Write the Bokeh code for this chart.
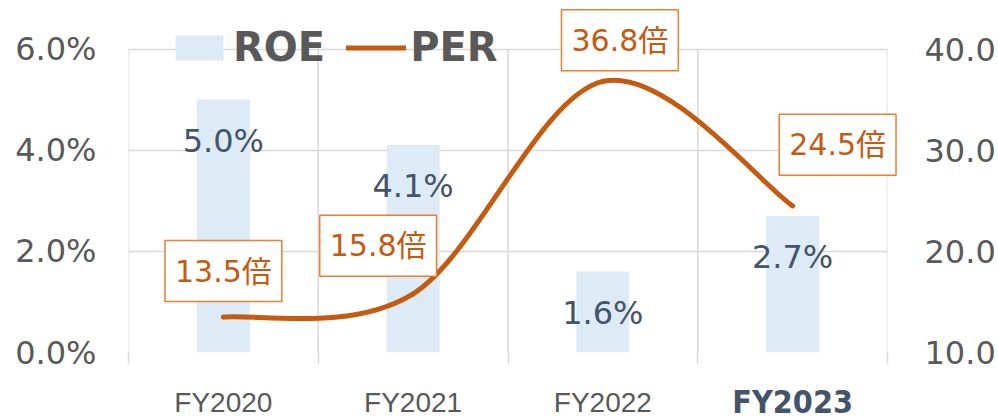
from bokeh.plotting import figure
from bokeh.models import (Range1d, LinearAxis, FixedTicker, PrintfTickFormatter,
                          ColumnDataSource, Legend, LegendItem)
from bokeh.embed import file_html
from bokeh.resources import INLINE
from bokeh.core.properties import value

# ---- data ----
categories = ["FY2020", "FY2021", "FY2022", "FY2023"]
roe = [5.0, 4.1, 1.6, 2.7]          # %
per = [13.5, 15.8, 36.8, 24.5]      # 倍
roe_ticks = [0, 2, 4, 6]
per_ticks = [10, 20, 30, 40]
highlight = "FY2023"

# ---- layout-only settings (screen px) ----
per_label_dx = [0, -35, 17, 45]
per_label_dy = [-46, -48, -41, -61]
TOP_PAD_PX = 48.5      # space between frame top and 6.0% line (legend lives here)
PLOT_PX = 303.5        # height of the 0..6% area

xc = [i + 0.5 for i in range(len(categories))]
bounds = list(range(len(categories) + 1))

ext = (PLOT_PX + TOP_PAD_PX) / PLOT_PX
roe_lo, roe_hi = roe_ticks[0], roe_ticks[-1]
per_lo, per_hi = per_ticks[0], per_ticks[-1]

src = ColumnDataSource(dict(
    x=xc, cat=categories, roe=roe, per=per,
    roe_lbl=[f"{v:.1f}%" for v in roe],
    per_lbl=[f"{v:.1f}倍" for v in per],
    dx=per_label_dx, dy=per_label_dy,
))

# smooth curve (Catmull-Rom style Bezier segments through the PER points)
n = len(xc)
bz = dict(x0=[], y0=[], x1=[], y1=[], cx0=[], cy0=[], cx1=[], cy1=[])
for i in range(n - 1):
    pxp, pyp = (xc[i - 1], per[i - 1]) if i > 0 else (xc[i], per[i])
    pxn, pyn = (xc[i + 2], per[i + 2]) if i + 2 < n else (xc[i + 1], per[i + 1])
    bz["x0"].append(xc[i]); bz["y0"].append(per[i])
    bz["x1"].append(xc[i + 1]); bz["y1"].append(per[i + 1])
    bz["cx0"].append(xc[i] + (xc[i + 1] - pxp) / 6)
    bz["cy0"].append(per[i] + (per[i + 1] - pyp) / 6)
    bz["cx1"].append(xc[i + 1] - (pxn - xc[i]) / 6)
    bz["cy1"].append(per[i + 1] - (pyn - per[i]) / 6)
bz_src = ColumnDataSource(bz)

GRID = "#d9d9d9"
TICK = "#595959"
LINE = "#C55A11"
BOX = "#ED7D31"
BAR = "#DDEBF7"
DARK = "#44546A"
FONT = "'DejaVu Sans', 'Noto Sans CJK JP'"

p = figure(width=998, height=419, x_range=Range1d(0, len(categories)),
           y_range=Range1d(roe_lo, roe_lo + (roe_hi - roe_lo) * ext),
           output_backend="svg", toolbar_location=None,
           min_border_left=128, min_border_right=107,
           min_border_top=0, min_border_bottom=67)
p.outline_line_color = None
p.background_fill_color = "white"
p.border_fill_color = "white"

p.extra_y_ranges = {"per": Range1d(per_lo, per_lo + (per_hi - per_lo) * ext)}

# left axis
p.yaxis.ticker = FixedTicker(ticks=roe_ticks)
p.yaxis.formatter = PrintfTickFormatter(format="%.1f%%")
p.yaxis.axis_line_color = None
p.yaxis.major_tick_line_color = None
p.yaxis.minor_tick_line_color = None
p.yaxis.major_label_standoff = 26
p.yaxis.major_label_text_font = FONT
p.yaxis.major_label_text_font_size = "32px"
p.yaxis.major_label_text_color = TICK

# right axis
ax2 = LinearAxis(y_range_name="per", ticker=FixedTicker(ticks=per_ticks),
                 formatter=PrintfTickFormatter(format="%.1f"))
ax2.axis_line_color = None
ax2.major_tick_line_color = None
ax2.minor_tick_line_color = None
ax2.major_label_standoff = 31
ax2.major_label_text_font = FONT
ax2.major_label_text_font_size = "32px"
ax2.major_label_text_color = TICK
p.add_layout(ax2, "right")

# bottom axis: only boundary ticks
xt = FixedTicker(ticks=xc, minor_ticks=bounds)
p.xaxis.ticker = xt
p.xaxis.axis_line_color = None
p.xaxis.major_tick_line_color = None
p.xaxis.minor_tick_out = 11
p.xaxis.minor_tick_in = 0
p.xaxis.minor_tick_line_color = GRID
p.xaxis.minor_tick_line_width = 1.5
p.xaxis.major_label_text_alpha = 0
p.xaxis.major_label_text_font_size = "8px"

p.xgrid.grid_line_color = None
p.ygrid.grid_line_color = GRID
p.ygrid.grid_line_width = 1.5

# category separators (from the category boundaries, 0% .. 6%)
p.segment(x0=bounds, y0=[roe_lo] * len(bounds), x1=bounds, y1=[roe_hi] * len(bounds),
          line_color=GRID, line_width=1.5)

# bars
bars = p.vbar(x="x", top="roe", width=0.28, bottom=0, source=src,
              fill_color=BAR, line_color=None)

# smooth PER line
curve = p.bezier(x0="x0", y0="y0", x1="x1", y1="y1", cx0="cx0", cy0="cy0",
                 cx1="cx1", cy1="cy1", source=bz_src, y_range_name="per",
                 line_color=LINE, line_width=5, line_cap="round")

# bar labels
p.text(x="x", y="roe", text="roe_lbl", source=src, y_offset=41,
       text_align="center", text_baseline="middle",
       text_font=value(FONT), text_font_size="32px", text_color=DARK)

# PER labels in boxes
t2 = p.text(x="x", y="per", text="per_lbl", source=src, y_range_name="per",
            x_offset="dx", y_offset="dy",
            text_align="center", text_baseline="middle",
            text_font=value(FONT), text_font_size="30px", text_color=LINE,
            background_fill_color="white", border_line_color=BOX,
            border_line_width=1.5,
            padding=dict(left=10, right=10, top=13, bottom=13))
t2.level = "overlay"

# category labels
norm = [i for i, c in enumerate(categories) if c != highlight]
cat_src = ColumnDataSource(dict(x=[xc[i] for i in norm],
                                y=[0] * len(norm),
                                t=[categories[i] for i in norm]))
cat_norm = p.text(x="x", y="y", text="t", source=cat_src, y_offset=50,
                  text_align="center", text_baseline="middle",
                  text_font=value("'Liberation Sans'"),
                  text_font_size="28px", text_color=TICK)
cat_norm.level = "overlay"
hi_src = ColumnDataSource(dict(x=[xc[categories.index(highlight)]], y=[0], t=[highlight]))
cat_hi = p.text(x="x", y="y", text="t", source=hi_src, y_offset=49,
                text_align="center", text_baseline="middle",
                text_font=value("'DejaVu Sans Condensed', 'DejaVu Sans'"),
                text_font_style="bold", text_font_size="32px", text_color=DARK)
cat_hi.level = "overlay"

# legend
legend = Legend(items=[LegendItem(label="ROE", renderers=[bars]),
                       LegendItem(label="PER", renderers=[curve])],
                orientation="horizontal", location=(41, 282),
                padding=0, margin=0, spacing=21, glyph_width=60, glyph_height=31,
                label_standoff=4, label_text_font=FONT,
                label_text_font_size="40px", label_text_font_style="bold",
                label_text_color=TICK, background_fill_alpha=0,
                border_line_color=None)
p.add_layout(legend, "center")

open("out.html", "w").write(file_html(p, INLINE))
